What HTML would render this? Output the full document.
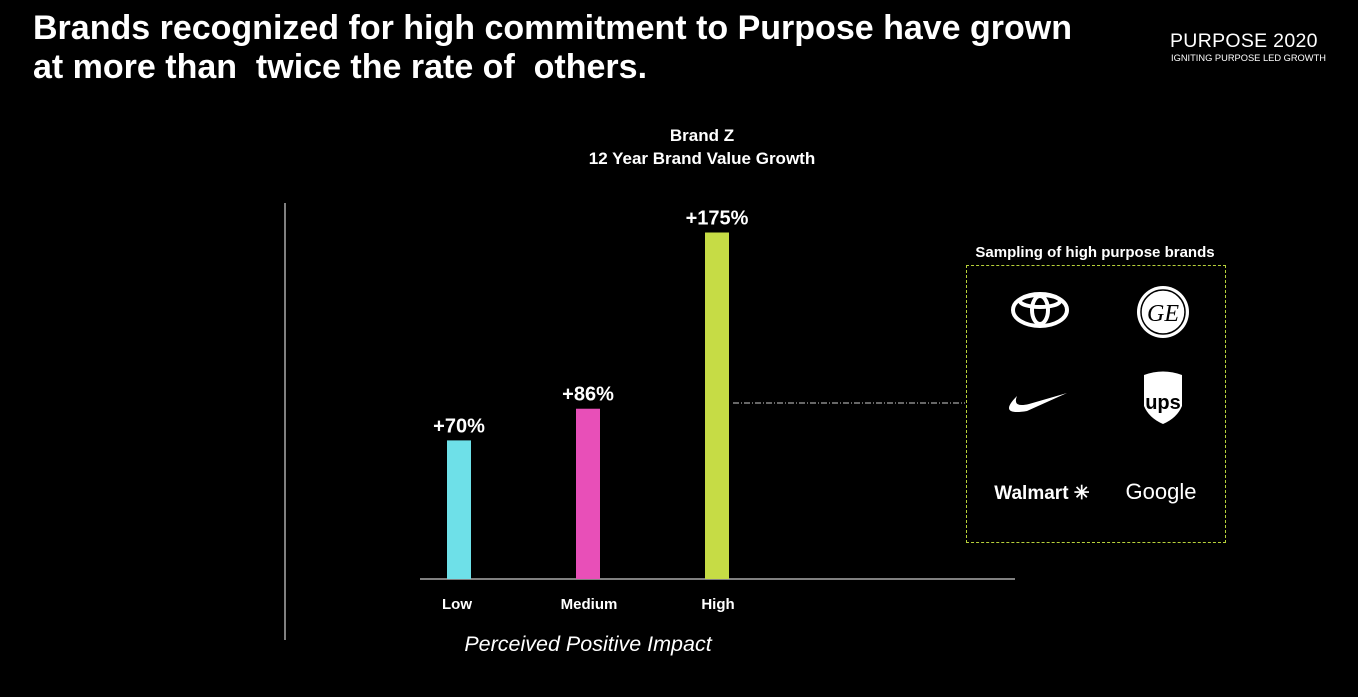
<!DOCTYPE html>
<html><head><meta charset="utf-8"><style>
body{margin:0;width:1358px;height:697px;background:#000;overflow:hidden;font-family:"Liberation Sans",sans-serif;color:#fff;position:relative}
.a{position:absolute}
</style></head><body>
<div class="a" style="left:33px;top:9px;font-size:34px;font-weight:bold;line-height:39px">Brands recognized for high commitment to Purpose have grown<br>at more than&nbsp; twice the rate of&nbsp; others.</div>
<div class="a" style="left:1170px;top:30px;font-size:19.5px;letter-spacing:0.3px;line-height:22px">PURPOSE 2020</div>
<div class="a" style="left:1171px;top:53px;font-size:9.3px;line-height:10px">IGNITING PURPOSE LED GROWTH</div>
<div class="a" style="left:497px;top:124px;width:410px;text-align:center;font-size:17px;font-weight:bold;line-height:23px">Brand Z<br>12 Year Brand Value Growth</div>
<svg class="a" style="left:0;top:0" width="1358" height="697">
<line x1="285" y1="203" x2="285" y2="640" stroke="#fff" stroke-width="1"/>
<line x1="420" y1="579" x2="1015" y2="579" stroke="#fff" stroke-width="1"/>
<line x1="733" y1="403" x2="965" y2="403" stroke="#ccc" stroke-width="1" stroke-dasharray="6,2,1,2"/>
<g id="bars"></g>
<text x="588" y="651" text-anchor="middle" font-size="21.5" font-style="italic" fill="#fff">Perceived Positive Impact</text>
</svg>
<div class="a" style="left:950px;top:244px;width:290px;text-align:center;font-size:15px;font-weight:bold">Sampling of high purpose brands</div>
<div class="a" style="left:966px;top:265px;width:258px;height:276px;border:1px dashed #b8d23a">
<svg width="258" height="276" style="position:absolute;left:0;top:0">
<g fill="none" stroke="#fff" stroke-width="4"><ellipse cx="73" cy="44" rx="27" ry="16"/><ellipse cx="73" cy="44" rx="8" ry="14"/><ellipse cx="73" cy="35" rx="20" ry="6"/></g>
<g><circle cx="196" cy="46" r="26" fill="#fff"/><circle cx="196" cy="46" r="22" fill="none" stroke="#000" stroke-width="1.5"/><text x="196" y="55" text-anchor="middle" font-size="24" font-style="italic" font-family="Liberation Serif" fill="#000">GE</text></g>
<path d="M50 130 Q30 150 60 145 L100 127 L62 138 Q45 142 50 130Z" fill="#fff"/>
<g><path d="M177 109 Q196 102 215 109 L215 140 Q210 152 196 158 Q182 152 177 140Z" fill="#fff"/><text x="196" y="143" text-anchor="middle" font-size="20" font-weight="bold" fill="#000">ups</text></g>
<text x="75" y="233" text-anchor="middle" font-size="19" font-weight="bold" fill="#fff">Walmart ✳</text>
<text x="194" y="233" text-anchor="middle" font-size="22" fill="#fff">Google</text>
</svg></div>
<script>
const categories=["Low","Medium","High"];
const values=[70,86,175];
const labels=["+70%","+86%","+175%"];
const colors=["#6ee0e8","#e84fb8","#c6dc45"];
const base=579, perUnit=1.98;
const xCenter=i=>459+i*129;
const yScale=v=>base-v*perUnit;
const g=document.getElementById('bars');
const NS="http://www.w3.org/2000/svg";
categories.forEach((c,i)=>{
 const r=document.createElementNS(NS,'rect');
 r.setAttribute('x',xCenter(i)-12);r.setAttribute('width',24);
 r.setAttribute('y',yScale(values[i]));r.setAttribute('height',base-yScale(values[i]));
 r.setAttribute('fill',colors[i]);
 
 
 g.appendChild(r);
 const t=document.createElementNS(NS,'text');
 t.setAttribute('x',xCenter(i));t.setAttribute('y',yScale(values[i])-8);
 t.setAttribute('text-anchor','middle');t.setAttribute('font-size','20');t.setAttribute('font-weight','bold');t.setAttribute('fill','#fff');
 t.textContent=labels[i];
 
 
 g.appendChild(t);
 const l=document.createElementNS(NS,'text');
 l.setAttribute('x',xCenter(i)-(i==0?2:i==1?-1:-1));l.setAttribute('y',609);
 l.setAttribute('text-anchor','middle');l.setAttribute('font-size','15');l.setAttribute('font-weight','bold');l.setAttribute('fill','#fff');
 l.textContent=c;
 
 
 g.appendChild(l);
});
</script>
</body></html>
